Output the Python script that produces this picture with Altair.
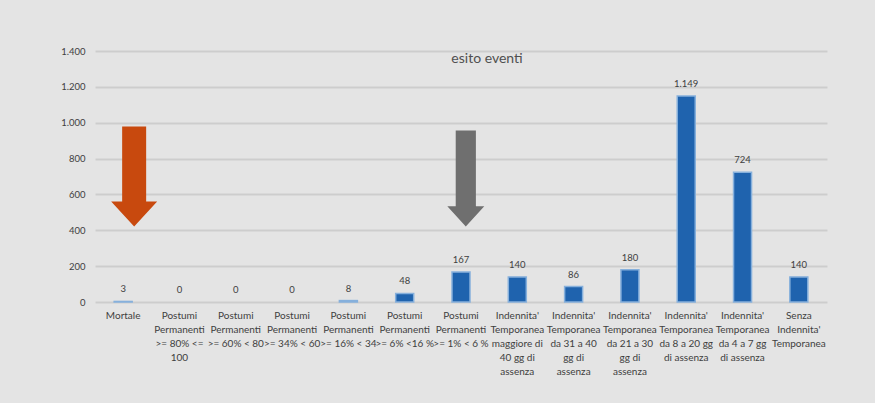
import altair as alt
import pandas as pd

# Outcome categories (line breaks marked with "|") and event counts
categories = [
    "Mortale",
    "Postumi|Permanenti|>= 80% <=|100",
    "Postumi|Permanenti|>= 60% < 80",
    "Postumi|Permanenti|>= 34% < 60",
    "Postumi|Permanenti|>= 16% < 34",
    "Postumi|Permanenti|>= 6% <16 %",
    "Postumi|Permanenti|>= 1% < 6 %",
    "Indennita'|Temporanea|maggiore di|40 gg di|assenza",
    "Indennita'|Temporanea|da 31 a 40|gg di|assenza",
    "Indennita'|Temporanea|da 21 a 30|gg di|assenza",
    "Indennita'|Temporanea|da 8 a 20 gg|di assenza",
    "Indennita'|Temporanea|da 4 a 7 gg|di assenza",
    "Senza|Indennita'|Temporanea",
]
counts = [3, 0, 0, 0, 8, 48, 167, 140, 86, 180, 1149, 724, 140]

# Callout arrows: category they point at and the level of their centre
arrow_cats = ["Mortale", "Postumi|Permanenti|>= 1% < 6 %"]
arrow_levels = [700, 689]

y_ticks = [0, 200, 400, 600, 800, 1000, 1200, 1400]

df = pd.DataFrame({"cat": categories, "n": counts})
arrows = pd.DataFrame({"cat": arrow_cats, "lvl": arrow_levels})

FONT = "Lato"
TXT = "#404040"

x_axis = alt.Axis(
    title=None,
    labelAngle=0,
    labelExpr="split(datum.label, '|')",
    labelFont=FONT,
    labelFontSize=10,
    labelColor=TXT,
    labelLineHeight=14,
    labelPadding=8,
    labelBaseline="top",
    labelOverlap=False,
    ticks=False,
    domain=False,
    labelLimit=0,
)
y_axis = alt.Axis(
    title=None,
    values=y_ticks,
    labelExpr="replace(format(datum.value, ','), ',', '.')",
    labelFont=FONT,
    labelFontSize=9.5,
    labelColor=TXT,
    labelPadding=10,
    labelOverlap=False,
    labelFlush=False,
    ticks=False,
    domain=False,
    grid=True,
    gridColor="#cdcdcd",
    gridWidth=1.8,
)
x_scale = alt.Scale(domain=categories, paddingInner=0, paddingOuter=0)
y_scale = alt.Scale(domain=[0, 1400], nice=False, zero=True)


def xe():
    return alt.X("cat:N", sort=categories, scale=x_scale, axis=x_axis)


def ye(field):
    return alt.Y(field, scale=y_scale, axis=y_axis)


bars = alt.Chart(df).mark_bar(
    size=18, color="#1f63ae", stroke="#86b0dc", strokeWidth=1.5
).encode(
    x=xe(),
    y=ye("n:Q"),
    strokeOpacity=alt.condition(alt.datum.n > 0, alt.value(1), alt.value(0)),
)

values = alt.Chart(df).transform_calculate(
    lbl="replace(format(datum.n, ','), ',', '.')"
).mark_text(
    font=FONT, fontSize=9.5, color=TXT, baseline="bottom", dy=-7
).encode(
    x=xe(),
    y=ye("n:Q"),
    text="lbl:N",
)

# Arrow outlines in the symbol's unit square, shifted right of the band centre
orange_path = "M-0.02,-1 L0.46,-1 L0.46,0.5 L0.68,0.5 L0.22,1 L-0.24,0.5 L-0.02,0.5 Z"
grey_path = "M-0.11,-1 L0.31,-1 L0.31,0.58 L0.485,0.58 L0.1,1 L-0.285,0.58 L-0.11,0.58 Z"

arrow_orange = alt.Chart(arrows).transform_filter(
    alt.datum.cat == arrow_cats[0]
).mark_point(
    shape=orange_path, size=10000, filled=True, color="#c8490e", opacity=1
).encode(
    x=xe(),
    y=ye("lvl:Q"),
)

arrow_grey = alt.Chart(arrows).transform_filter(
    alt.datum.cat == arrow_cats[1]
).mark_point(
    shape=grey_path, size=9216, filled=True, color="#6f6f6f", opacity=1
).encode(
    x=xe(),
    y=ye("lvl:Q"),
)

title = alt.Chart(pd.DataFrame({"t": ["esito eventi"]})).mark_text(
    font=FONT, fontSize=14, color="#505050", baseline="middle", align="center"
).encode(
    text="t:N",
    x=alt.value(392),
    y=alt.value(8),
)

chart = alt.layer(bars, values, arrow_orange, arrow_grey, title).properties(
    width=732,
    height=251,
    background="#e4e4e4",
    padding={"left": 95, "top": 51, "right": 48, "bottom": 101},
    autosize=alt.AutoSizeParams(type="none"),
).configure_view(stroke=None)

chart.save("out.html", embed_options={"renderer": "svg", "actions": False})
